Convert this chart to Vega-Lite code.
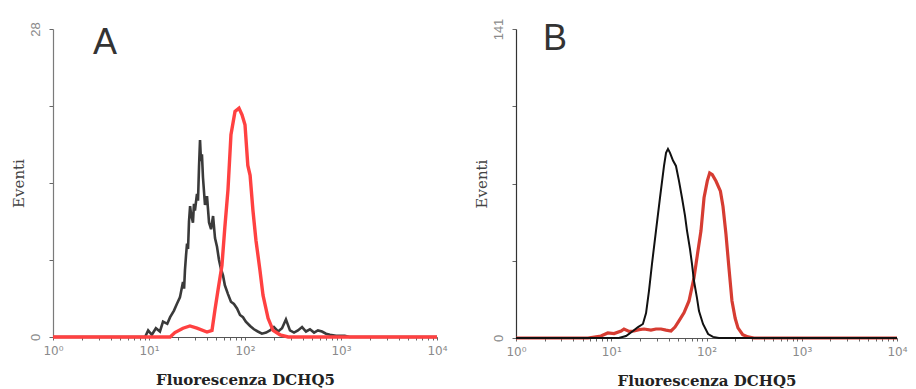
{
  "$schema": "https://vega.github.io/schema/vega-lite/v6.json",
  "background": "white",
  "padding": {"left": 11, "top": 18, "right": 0, "bottom": 0},
  "datasets": {
    "pannelloA": [
      {"campione": "controllo", "fluo": 1, "eventi": 0},
      {"campione": "controllo", "fluo": 7.94, "eventi": 0},
      {"campione": "controllo", "fluo": 9.1, "eventi": 0},
      {"campione": "controllo", "fluo": 9.8, "eventi": 0.6},
      {"campione": "controllo", "fluo": 10.7, "eventi": 0.2},
      {"campione": "controllo", "fluo": 11.8, "eventi": 0.8},
      {"campione": "controllo", "fluo": 13.0, "eventi": 0.5},
      {"campione": "controllo", "fluo": 14.0, "eventi": 1.4},
      {"campione": "controllo", "fluo": 15.5, "eventi": 1.2},
      {"campione": "controllo", "fluo": 16.6, "eventi": 1.8},
      {"campione": "controllo", "fluo": 18.2, "eventi": 2.4},
      {"campione": "controllo", "fluo": 19.5, "eventi": 3.0},
      {"campione": "controllo", "fluo": 21.0, "eventi": 3.6},
      {"campione": "controllo", "fluo": 22.6, "eventi": 5.0},
      {"campione": "controllo", "fluo": 23.2, "eventi": 4.4},
      {"campione": "controllo", "fluo": 23.7, "eventi": 6.1},
      {"campione": "controllo", "fluo": 24.3, "eventi": 7.4},
      {"campione": "controllo", "fluo": 24.9, "eventi": 8.5},
      {"campione": "controllo", "fluo": 25.5, "eventi": 8.0},
      {"campione": "controllo", "fluo": 26.1, "eventi": 10.5},
      {"campione": "controllo", "fluo": 26.8, "eventi": 11.9},
      {"campione": "controllo", "fluo": 27.4, "eventi": 11.2},
      {"campione": "controllo", "fluo": 28.7, "eventi": 10.4},
      {"campione": "controllo", "fluo": 29.4, "eventi": 12.1},
      {"campione": "controllo", "fluo": 30.1, "eventi": 11.5},
      {"campione": "controllo", "fluo": 31.6, "eventi": 13.0},
      {"campione": "controllo", "fluo": 32.4, "eventi": 12.4},
      {"campione": "controllo", "fluo": 33.2, "eventi": 15.5},
      {"campione": "controllo", "fluo": 34.0, "eventi": 17.9},
      {"campione": "controllo", "fluo": 34.8, "eventi": 16.0},
      {"campione": "controllo", "fluo": 35.6, "eventi": 16.6},
      {"campione": "controllo", "fluo": 36.5, "eventi": 14.5},
      {"campione": "controllo", "fluo": 38.3, "eventi": 12.0},
      {"campione": "controllo", "fluo": 40.2, "eventi": 12.8},
      {"campione": "controllo", "fluo": 42.2, "eventi": 10.4},
      {"campione": "controllo", "fluo": 44.3, "eventi": 9.8},
      {"campione": "controllo", "fluo": 46.5, "eventi": 11.0},
      {"campione": "controllo", "fluo": 48.7, "eventi": 9.0},
      {"campione": "controllo", "fluo": 51.1, "eventi": 8.2},
      {"campione": "controllo", "fluo": 53.6, "eventi": 7.0},
      {"campione": "controllo", "fluo": 56.2, "eventi": 6.2},
      {"campione": "controllo", "fluo": 59.0, "eventi": 5.6},
      {"campione": "controllo", "fluo": 61.7, "eventi": 4.7},
      {"campione": "controllo", "fluo": 66.5, "eventi": 3.9},
      {"campione": "controllo", "fluo": 71.4, "eventi": 3.2},
      {"campione": "controllo", "fluo": 76.7, "eventi": 3.0},
      {"campione": "controllo", "fluo": 82.6, "eventi": 2.6},
      {"campione": "controllo", "fluo": 88.7, "eventi": 2.0},
      {"campione": "controllo", "fluo": 95.3, "eventi": 1.8},
      {"campione": "controllo", "fluo": 102, "eventi": 1.4},
      {"campione": "controllo", "fluo": 113, "eventi": 1.0},
      {"campione": "controllo", "fluo": 124, "eventi": 0.7},
      {"campione": "controllo", "fluo": 136, "eventi": 0.5},
      {"campione": "controllo", "fluo": 150, "eventi": 0.3},
      {"campione": "controllo", "fluo": 166, "eventi": 0.4},
      {"campione": "controllo", "fluo": 182, "eventi": 0.6},
      {"campione": "controllo", "fluo": 200, "eventi": 0.9},
      {"campione": "controllo", "fluo": 221, "eventi": 0.5},
      {"campione": "controllo", "fluo": 243, "eventi": 0.8},
      {"campione": "controllo", "fluo": 267, "eventi": 1.6},
      {"campione": "controllo", "fluo": 294, "eventi": 0.6},
      {"campione": "controllo", "fluo": 324, "eventi": 0.4},
      {"campione": "controllo", "fluo": 356, "eventi": 0.6},
      {"campione": "controllo", "fluo": 393, "eventi": 0.9},
      {"campione": "controllo", "fluo": 432, "eventi": 0.5},
      {"campione": "controllo", "fluo": 475, "eventi": 0.7},
      {"campione": "controllo", "fluo": 524, "eventi": 0.4},
      {"campione": "controllo", "fluo": 575, "eventi": 0.6},
      {"campione": "controllo", "fluo": 634, "eventi": 0.5},
      {"campione": "controllo", "fluo": 698, "eventi": 0.3},
      {"campione": "controllo", "fluo": 767, "eventi": 0.2},
      {"campione": "controllo", "fluo": 887, "eventi": 0.1},
      {"campione": "controllo", "fluo": 1096, "eventi": 0.1},
      {"campione": "controllo", "fluo": 1230, "eventi": 0},
      {"campione": "controllo", "fluo": 10000, "eventi": 0},
      {"campione": "DCHQ5", "fluo": 1, "eventi": 0},
      {"campione": "DCHQ5", "fluo": 16.6, "eventi": 0},
      {"campione": "DCHQ5", "fluo": 18.6, "eventi": 0.4},
      {"campione": "DCHQ5", "fluo": 22.6, "eventi": 0.8},
      {"campione": "DCHQ5", "fluo": 26.7, "eventi": 1.0},
      {"campione": "DCHQ5", "fluo": 31.6, "eventi": 0.8},
      {"campione": "DCHQ5", "fluo": 40.2, "eventi": 0.45},
      {"campione": "DCHQ5", "fluo": 45.3, "eventi": 0.6},
      {"campione": "DCHQ5", "fluo": 48.7, "eventi": 2.5},
      {"campione": "DCHQ5", "fluo": 52.4, "eventi": 4.3},
      {"campione": "DCHQ5", "fluo": 57.5, "eventi": 6.5},
      {"campione": "DCHQ5", "fluo": 61.7, "eventi": 10},
      {"campione": "DCHQ5", "fluo": 66.5, "eventi": 13.4},
      {"campione": "DCHQ5", "fluo": 71.4, "eventi": 18.4},
      {"campione": "DCHQ5", "fluo": 78.7, "eventi": 20.5},
      {"campione": "DCHQ5", "fluo": 86.6, "eventi": 20.8},
      {"campione": "DCHQ5", "fluo": 93.1, "eventi": 20.2},
      {"campione": "DCHQ5", "fluo": 100, "eventi": 19.3},
      {"campione": "DCHQ5", "fluo": 107, "eventi": 15.6},
      {"campione": "DCHQ5", "fluo": 113, "eventi": 14.7},
      {"campione": "DCHQ5", "fluo": 121, "eventi": 11.5},
      {"campione": "DCHQ5", "fluo": 130, "eventi": 8.8},
      {"campione": "DCHQ5", "fluo": 143, "eventi": 6.1},
      {"campione": "DCHQ5", "fluo": 154, "eventi": 3.8},
      {"campione": "DCHQ5", "fluo": 174, "eventi": 1.7},
      {"campione": "DCHQ5", "fluo": 196, "eventi": 0.6},
      {"campione": "DCHQ5", "fluo": 232, "eventi": 0.2},
      {"campione": "DCHQ5", "fluo": 282, "eventi": 0},
      {"campione": "DCHQ5", "fluo": 10000, "eventi": 0}
    ],
    "pannelloB": [
      {"campione": "controllo", "fluo": 1, "eventi": 0},
      {"campione": "controllo", "fluo": 12, "eventi": 0},
      {"campione": "controllo", "fluo": 14.3, "eventi": 0.9},
      {"campione": "controllo", "fluo": 16.9, "eventi": 3.2},
      {"campione": "controllo", "fluo": 19.1, "eventi": 5.0},
      {"campione": "controllo", "fluo": 21.5, "eventi": 6.4},
      {"campione": "controllo", "fluo": 23.2, "eventi": 11.4},
      {"campione": "controllo", "fluo": 24.9, "eventi": 21.5},
      {"campione": "controllo", "fluo": 26.8, "eventi": 34},
      {"campione": "controllo", "fluo": 29.5, "eventi": 49},
      {"campione": "controllo", "fluo": 32.5, "eventi": 64},
      {"campione": "controllo", "fluo": 35.8, "eventi": 78.5},
      {"campione": "controllo", "fluo": 37.6, "eventi": 84.5},
      {"campione": "controllo", "fluo": 39.4, "eventi": 86.3},
      {"campione": "controllo", "fluo": 41.4, "eventi": 84.5},
      {"campione": "controllo", "fluo": 44.5, "eventi": 81},
      {"campione": "controllo", "fluo": 47.8, "eventi": 78.5},
      {"campione": "controllo", "fluo": 51.4, "eventi": 71.7},
      {"campione": "controllo", "fluo": 55.3, "eventi": 64},
      {"campione": "controllo", "fluo": 59.4, "eventi": 56},
      {"campione": "controllo", "fluo": 62.4, "eventi": 49},
      {"campione": "controllo", "fluo": 67.1, "eventi": 40.6},
      {"campione": "controllo", "fluo": 70.4, "eventi": 33.8},
      {"campione": "controllo", "fluo": 73.9, "eventi": 26},
      {"campione": "controllo", "fluo": 79.4, "eventi": 18.3},
      {"campione": "controllo", "fluo": 83.4, "eventi": 12.3},
      {"campione": "controllo", "fluo": 91.9, "eventi": 6.4},
      {"campione": "controllo", "fluo": 104, "eventi": 1.8},
      {"campione": "controllo", "fluo": 117, "eventi": 0.5},
      {"campione": "controllo", "fluo": 135, "eventi": 0},
      {"campione": "controllo", "fluo": 10000, "eventi": 0},
      {"campione": "DCHQ5", "fluo": 1, "eventi": 0},
      {"campione": "DCHQ5", "fluo": 5.7, "eventi": 0},
      {"campione": "DCHQ5", "fluo": 7.8, "eventi": 0.9},
      {"campione": "DCHQ5", "fluo": 9.2, "eventi": 2.3},
      {"campione": "DCHQ5", "fluo": 10.7, "eventi": 2.0},
      {"campione": "DCHQ5", "fluo": 12.7, "eventi": 3.2},
      {"campione": "DCHQ5", "fluo": 13.6, "eventi": 4.1},
      {"campione": "DCHQ5", "fluo": 15.4, "eventi": 3.0},
      {"campione": "DCHQ5", "fluo": 17.3, "eventi": 3.2},
      {"campione": "DCHQ5", "fluo": 19.6, "eventi": 3.8},
      {"campione": "DCHQ5", "fluo": 22.1, "eventi": 4.1},
      {"campione": "DCHQ5", "fluo": 26.1, "eventi": 3.6},
      {"campione": "DCHQ5", "fluo": 29.5, "eventi": 4.1},
      {"campione": "DCHQ5", "fluo": 33.3, "eventi": 4.1},
      {"campione": "DCHQ5", "fluo": 37.6, "eventi": 3.6},
      {"campione": "DCHQ5", "fluo": 42.4, "eventi": 3.2},
      {"campione": "DCHQ5", "fluo": 46.7, "eventi": 5.0},
      {"campione": "DCHQ5", "fluo": 51.4, "eventi": 7.8},
      {"campione": "DCHQ5", "fluo": 58, "eventi": 11.5},
      {"campione": "DCHQ5", "fluo": 65.5, "eventi": 16.9},
      {"campione": "DCHQ5", "fluo": 73.9, "eventi": 27.5},
      {"campione": "DCHQ5", "fluo": 80.5, "eventi": 38.4},
      {"campione": "DCHQ5", "fluo": 87.5, "eventi": 48.9},
      {"campione": "DCHQ5", "fluo": 94.2, "eventi": 64},
      {"campione": "DCHQ5", "fluo": 102, "eventi": 71.7},
      {"campione": "DCHQ5", "fluo": 108, "eventi": 75.3},
      {"campione": "DCHQ5", "fluo": 115, "eventi": 74.5},
      {"campione": "DCHQ5", "fluo": 126, "eventi": 71.5},
      {"campione": "DCHQ5", "fluo": 140, "eventi": 67},
      {"campione": "DCHQ5", "fluo": 149, "eventi": 60},
      {"campione": "DCHQ5", "fluo": 160, "eventi": 47.5},
      {"campione": "DCHQ5", "fluo": 172, "eventi": 32},
      {"campione": "DCHQ5", "fluo": 185, "eventi": 17},
      {"campione": "DCHQ5", "fluo": 200, "eventi": 9},
      {"campione": "DCHQ5", "fluo": 214, "eventi": 4.6},
      {"campione": "DCHQ5", "fluo": 240, "eventi": 1.5},
      {"campione": "DCHQ5", "fluo": 273, "eventi": 0.5},
      {"campione": "DCHQ5", "fluo": 315, "eventi": 0},
      {"campione": "DCHQ5", "fluo": 10000, "eventi": 0}
    ]
  },
  "spacing": 26,
  "hconcat": [
    {
      "width": 384,
      "height": 308,
      "title": {"text": "A", "dx": 40, "offset": -40},
      "data": {"name": "pannelloA"},
      "encoding": {
        "x": {
          "field": "fluo",
          "type": "quantitative",
          "scale": {"type": "log", "domain": [1, 10000], "nice": false},
          "axis": {"title": "Fluorescenza DCHQ5"}
        },
        "y": {
          "field": "eventi",
          "type": "quantitative",
          "scale": {"domain": [0, 28], "nice": false, "zero": true},
          "axis": {
            "title": "Eventi",
            "domainColor": "#7a7a7a",
            "values": [0, 7, 14, 21, 28],
            "labelExpr": "datum.value == 0 || datum.value == 28 ? datum.label : ''"
          }
        }
      },
      "layer": [
        {
          "transform": [{"filter": "datum.campione == 'controllo'"}],
          "mark": {"type": "line", "color": "#3a3a3a", "strokeWidth": 2.6, "strokeJoin": "miter"}
        },
        {
          "transform": [{"filter": "datum.campione == 'DCHQ5'"}],
          "mark": {"type": "line", "color": "#ff4141", "strokeWidth": 3.4}
        }
      ]
    },
    {
      "width": 381,
      "height": 309,
      "title": {"text": "B", "dx": 27, "offset": -40},
      "data": {"name": "pannelloB"},
      "encoding": {
        "x": {
          "field": "fluo",
          "type": "quantitative",
          "scale": {"type": "log", "domain": [1, 10000], "nice": false},
          "axis": {"title": "Fluorescenza DCHQ5"}
        },
        "y": {
          "field": "eventi",
          "type": "quantitative",
          "scale": {"domain": [0, 141], "nice": false, "zero": true},
          "axis": {
            "title": "Eventi",
            "domainColor": "#333333",
            "values": [0, 35.25, 70.5, 105.75, 141],
            "labelExpr": "datum.value == 0 || datum.value == 141 ? datum.label : ''"
          }
        }
      },
      "layer": [
        {
          "transform": [{"filter": "datum.campione == 'DCHQ5'"}],
          "mark": {"type": "line", "color": "#d63c32", "strokeWidth": 3.2}
        },
        {
          "transform": [{"filter": "datum.campione == 'controllo'"}],
          "mark": {"type": "line", "color": "#111111", "strokeWidth": 2}
        }
      ]
    }
  ],
  "config": {
    "view": {"stroke": null},
    "title": {
      "anchor": "start",
      "frame": "group",
      "font": "Liberation Sans",
      "fontSize": 36,
      "fontWeight": "normal",
      "color": "#333333",
      "baseline": "top"
    },
    "axis": {
      "grid": false,
      "domainColor": "#555555",
      "tickColor": "#666666",
      "domainWidth": 1.2
    },
    "axisX": {
      "values": [1, 2, 3, 4, 5, 6, 7, 8, 9, 10, 20, 30, 40, 50, 60, 70, 80, 90, 100, 200, 300, 400, 500, 600, 700, 800, 900, 1000, 2000, 3000, 4000, 5000, 6000, 7000, 8000, 9000, 10000],
      "labelExpr": "datum.value == 1 ? '10⁰' : datum.value == 10 ? '10¹' : datum.value == 100 ? '10²' : datum.value == 1000 ? '10³' : datum.value == 10000 ? '10⁴' : ''",
      "labelOverlap": false,
      "labelFlush": false,
      "labelFont": "DejaVu Sans",
      "labelFontSize": 12,
      "labelColor": "#8a8a8a",
      "labelPadding": 5,
      "tickSize": 3,
      "titleFont": "DejaVu Serif",
      "titleFontSize": 15,
      "titleFontWeight": "bold",
      "titleColor": "#222222",
      "titlePadding": 16
    },
    "axisY": {
      "labelAngle": -90,
      "labelAlign": "center",
      "labelBaseline": "bottom",
      "labelFont": "Liberation Sans",
      "labelFontSize": 13,
      "labelColor": "#8a8a8a",
      "labelPadding": 7,
      "labelOverlap": false,
      "labelFlush": false,
      "tickSize": 4,
      "titleFont": "DejaVu Serif",
      "titleFontSize": 15,
      "titleFontWeight": "normal",
      "titleColor": "#444444",
      "titlePadding": 3
    }
  }
}
